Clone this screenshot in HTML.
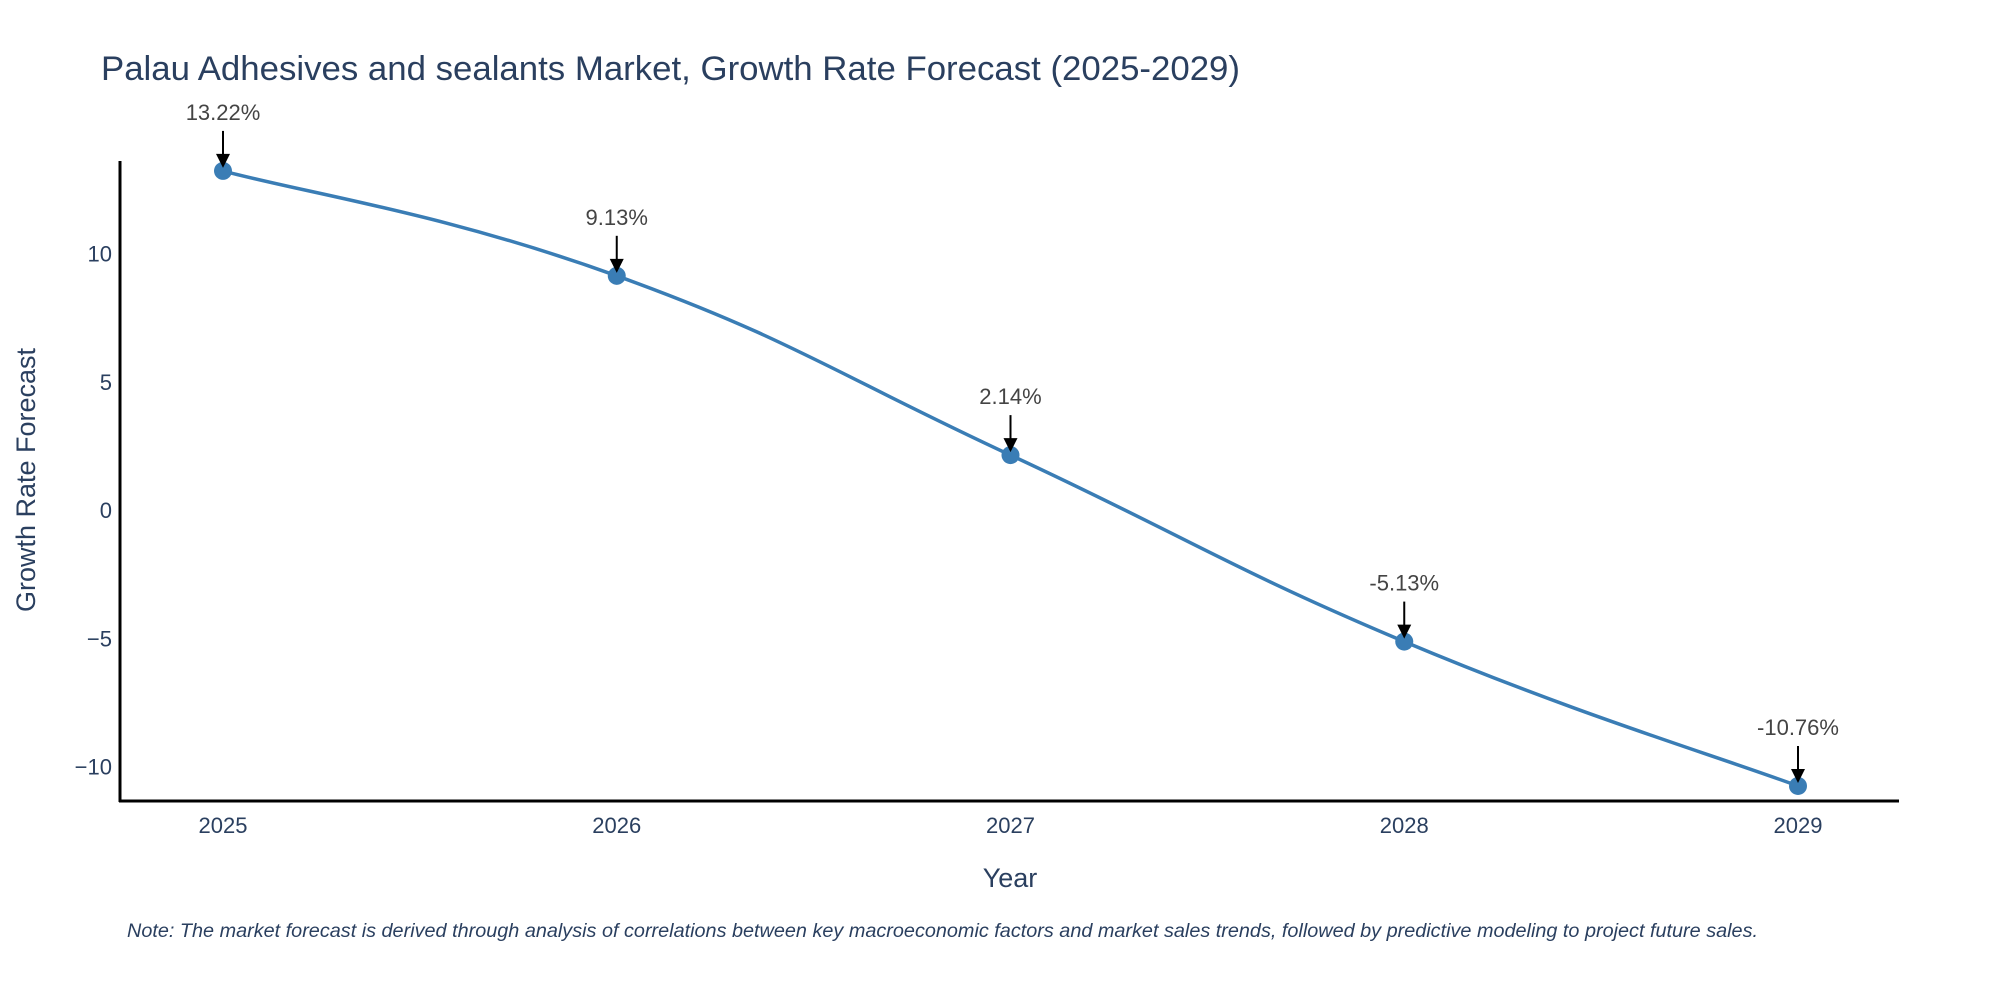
<!DOCTYPE html>
<html><head><meta charset="utf-8"><style>
html,body{margin:0;padding:0;background:#fff;}
svg{display:block;font-family:"Liberation Sans",sans-serif;}
</style></head><body>
<svg id="chart" width="2000" height="1000" viewBox="0 0 2000 1000">
<text x="101" y="80" font-size="34" fill="#2a3f5f" textLength="1139" lengthAdjust="spacingAndGlyphs">Palau Adhesives and sealants Market, Growth Rate Forecast (2025-2029)</text>
<g id="yticks"></g>
<g id="xticks"></g>
<line x1="120" y1="161" x2="120" y2="802" stroke="#000" stroke-width="3"/>
<line x1="119" y1="801" x2="1899" y2="801" stroke="#000" stroke-width="3"/>
<path id="series" fill="none" stroke="#3a7db5" stroke-width="3.5"/>
<g id="points"></g>
<g id="annots"></g>
<text x="1010" y="887" font-size="27" fill="#2a3f5f" text-anchor="middle">Year</text>
<text transform="translate(35,480) rotate(-90)" font-size="27" fill="#2a3f5f" text-anchor="middle">Growth Rate Forecast</text>
<text x="127" y="937" font-size="19" font-style="italic" fill="#2a3f5f" textLength="1631" lengthAdjust="spacingAndGlyphs">Note: The market forecast is derived through analysis of correlations between key macroeconomic factors and market sales trends, followed by predictive modeling to project future sales.</text>
</svg>
<script>
const years = ["2025","2026","2027","2028","2029"];
const values = [13.22, 9.13, 2.14, -5.13, -10.76];
const labels = ["13.22%","9.13%","2.14%","-5.13%","-10.76%"];
const yTicks = [10, 5, 0, -5, -10];
const yTickLabels = ["10","5","0","\u22125","\u221210"];
const NS = "http://www.w3.org/2000/svg";
const xs = i => 223 + i * 393.75;
const ys = v => 510 - v * 25.65;
function mk(tag, attrs, parent){const e=document.createElementNS(NS,tag);for(const k in attrs)e.setAttribute(k,attrs[k]);parent.appendChild(e);return e;}
const yt=document.getElementById('yticks');
yTicks.forEach((v,i)=>{const t=mk('text',{x:112,y:ys(v)+8,'font-size':22,fill:'#2a3f5f','text-anchor':'end'},yt);


t.textContent=yTickLabels[i];});
const xt=document.getElementById('xticks');
years.forEach((y,i)=>{const t=mk('text',{x:xs(i),y:833,'font-size':22,fill:'#2a3f5f','text-anchor':'middle'},xt);


t.textContent=y;});
const P=values.map((v,i)=>[xs(i),ys(v)]);
let d=`M${P[0][0]},${P[0][1]}`;
for(let i=0;i<P.length-1;i++){const p0=P[Math.max(i-1,0)],p1=P[i],p2=P[i+1],p3=P[Math.min(i+2,P.length-1)];const s=4.5;
d+=` C${p1[0]+(p2[0]-p0[0])/s},${p1[1]+(p2[1]-p0[1])/s} ${p2[0]-(p3[0]-p1[0])/s},${p2[1]-(p3[1]-p1[1])/s} ${p2[0]},${p2[1]}`;}
document.getElementById('series').setAttribute('d',d);
const pg=document.getElementById('points'),ag=document.getElementById('annots');
P.forEach((p,i)=>{const c=mk('circle',{cx:p[0],cy:p[1],r:9,fill:'#3a7db5'},pg);


const l=mk('line',{x1:p[0],y1:p[1]-40,x2:p[0],y2:p[1]-16,stroke:'#000','stroke-width':2},ag);


const a=mk('polygon',{points:`${p[0]-7},${p[1]-17} ${p[0]+7},${p[1]-17} ${p[0]},${p[1]-3}`,fill:'#000'},ag);


const t=mk('text',{x:p[0],y:p[1]-51,'font-size':22,fill:'#444','text-anchor':'middle'},ag);


t.textContent=labels[i];});
</script>
</body></html>
